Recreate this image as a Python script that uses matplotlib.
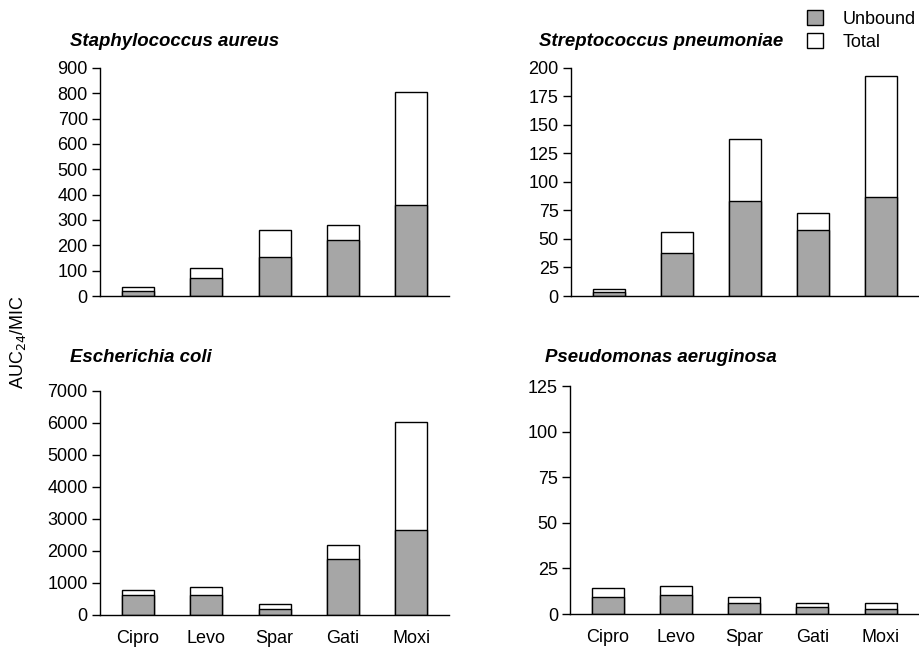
import matplotlib
matplotlib.use('Agg')
import matplotlib.pyplot as plt
from matplotlib.patches import Patch

# drugs on the x axis
drugs = ['Cipro', 'Levo', 'Spar', 'Gati', 'Moxi']

# AUC24/MIC values
sa_total = [34, 109, 261, 282, 805]
sa_unbound = [20, 71, 152, 220, 360]
sp_total = [5.9, 56, 138, 72.6, 193]
sp_unbound = [3.2, 38, 83, 58, 87]
ec_total = [792, 875, 344, 2188, 6031]
ec_unbound = [615, 635, 198, 1750, 2667]
pa_total = [14, 15.1, 9.1, 6.0, 6.0]
pa_unbound = [9.3, 10.6, 5.8, 3.8, 2.9]

titles = ['Staphylococcus aureus', 'Streptococcus pneumoniae',
          'Escherichia coli', 'Pseudomonas aeruginosa']
ymax = [900, 200, 7000, 125]
ystep = [100, 25, 1000, 25]

plt.rcParams['font.family'] = ['Liberation Sans', 'DejaVu Sans']

fig = plt.figure(figsize=(9.2, 6.47), dpi=100)
rects = [
    [0.109, 0.5425, 0.379, 0.3525],
    [0.621, 0.5425, 0.377, 0.3525],
    [0.109, 0.0495, 0.379, 0.3465],
    [0.620, 0.051, 0.378, 0.352],
]
title_x = [70, 539, 70, 545]
title_y = [41, 41, 358, 358]

data = [(sa_total, sa_unbound), (sp_total, sp_unbound),
        (ec_total, ec_unbound), (pa_total, pa_unbound)]

gray = '#a6a6a6'
fs = 13
for i, (total, unbound) in enumerate(data):
    ax = fig.add_axes(rects[i])
    x = range(len(drugs))
    ax.bar(x, total, width=0.47, color='white', edgecolor='black', linewidth=1.0)
    ax.bar(x, unbound, width=0.47, color=gray, edgecolor='black', linewidth=1.0)
    ax.set_xlim(-0.55, 4.55)
    ax.set_ylim(0, ymax[i])
    ax.set_yticks(range(0, ymax[i] + 1, ystep[i]))
    ax.spines['top'].set_visible(False)
    ax.spines['right'].set_visible(False)
    ax.spines['left'].set_linewidth(1.0)
    ax.spines['bottom'].set_linewidth(1.0)
    ax.tick_params(axis='y', labelsize=fs, length=6, width=1.0, direction='out', pad=3)
    if i >= 2:
        ax.set_xticks(list(x))
        ax.set_xticklabels(drugs)
        ax.tick_params(axis='x', labelsize=fs, length=0, pad=11)
    else:
        ax.set_xticks([])
    fig.text(title_x[i] / 920, 1 - title_y[i] / 647, titles[i],
             fontsize=13.4, fontweight='bold', fontstyle='italic',
             ha='left', va='center')

fig.text(18 / 920, 1 - 342 / 647, 'AUC$_{24}$/MIC', rotation=90, fontsize=fs,
         ha='center', va='center')

handles = [Patch(facecolor=gray, edgecolor='black', label='Unbound'),
           Patch(facecolor='white', edgecolor='black', label='Total')]
fig.legend(handles=handles, loc='upper left', bbox_to_anchor=(0.8775, 0.984),
           frameon=False, fontsize=fs, handlelength=0.85, handleheight=0.85,
           handletextpad=1.13, labelspacing=0.3, borderaxespad=0, borderpad=0)

fig.savefig('out.png', dpi=100)
plt.close()
